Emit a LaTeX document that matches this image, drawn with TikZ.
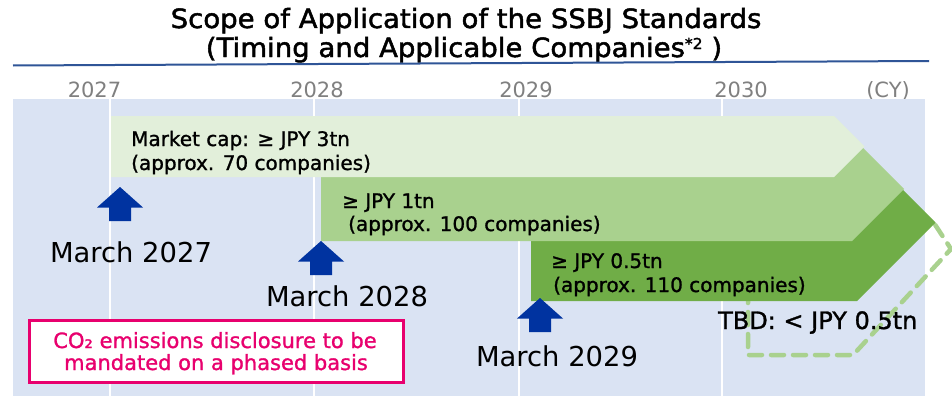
\documentclass[tikz,border=0pt]{standalone}
\usepackage{fontspec}
\setmainfont{DejaVu Sans}
\newfontfamily\titlefont[FakeStretch=1.04,FakeBold=1.8]{DejaVu Sans}
\newfontfamily\medfont[FakeBold=1.2]{DejaVu Sans}
\definecolor{panelblue}{RGB}{218,227,243}
\definecolor{glight}{RGB}{226,239,218}
\definecolor{gmid}{RGB}{169,209,142}
\definecolor{gdark}{RGB}{112,173,71}
\definecolor{arrowblue}{RGB}{0,51,160}
\definecolor{rulblue}{RGB}{47,85,151}
\definecolor{yeargray}{RGB}{128,128,128}
\definecolor{pink}{RGB}{232,0,110}
\tikzset{
  txt/.style={inner sep=0pt, font=\medfont\fontsize{20}{24}\selectfont, anchor=base west},
  yearlbl/.style={inner sep=0pt, font=\fontsize{21}{25}\selectfont, text=yeargray, anchor=base},
  marchlbl/.style={inner sep=0pt, font=\fontsize{27.4}{32}\selectfont, anchor=base},
  divider/.style={draw=white, line width=2.5pt},
  uparrow/.pic={\fill[arrowblue] (0,0) -- (23,20.5) -- (11,20.5) -- (11,34) -- (-11,34) -- (-11,20.5) -- (-23,20.5) -- cycle;},
  tbddash/.style={draw=gmid, line width=4.5pt, dash pattern=on 13pt off 9pt, line cap=round, line join=round}
}
\begin{document}
\begin{tikzpicture}[x=1pt,y=-1pt]
\useasboundingbox (0,0) rectangle (952,396);
\fill[white] (0,0) rectangle (952,396);
% title
\node[inner sep=0pt, anchor=base, font=\titlefont\fontsize{26.5}{30}\selectfont] (t1) at (466,28) {Scope of Application of the SSBJ Standards};
\node[inner sep=0pt, anchor=base, font=\titlefont\fontsize{26.5}{30}\selectfont] (t2) at (464,57) {(Timing and Applicable Companies{\fontsize{15}{15}\selectfont\raisebox{8pt}{*2}} )};
\draw[rulblue, line width=2pt] (13,65.5) -- (929,61);
% year labels
\node[yearlbl] (y27) at (94.5,97) {2027};
\node[yearlbl] (y28) at (317,97) {2028};
\node[yearlbl] (y29) at (526,97) {2029};
\node[yearlbl] (y30) at (741,97) {2030};
\node[yearlbl] (cy) at (888,97) {(CY)};
% panel
\fill[panelblue] (13,99) rectangle (925,396);
\foreach \x in {110,314,519,722} \draw[divider] (\x,99) -- (\x,396);
% dashed TBD outline
\draw[tbddash] (748,290) -- (748,355) -- (853,355) -- (951,249) -- (932,220);
% bars (dark first, light on top)
\fill[gdark] (531,144) -- (857,144) -- (935.5,222.5) -- (857,301) -- (531,301) -- cycle;
\fill[gmid] (321,137) -- (852,137) -- (904,189) -- (852,241) -- (321,241) -- cycle;
\fill[glight] (111,116) -- (834,116) -- (864.5,146.5) -- (834,177) -- (111,177) -- cycle;
% bar texts
\node[txt] (l1) at (131,146) {Market cap: ≥ JPY 3tn};
\node[txt] (l2) at (131,170) {(approx. 70 companies)};
\node[txt] (m1) at (342,208) {≥ JPY 1tn};
\node[txt] (m2) at (348,231) {(approx. 100 companies)};
\node[txt] (d1) at (551,268) {≥ JPY 0.5tn};
\node[txt] (d2) at (553,292) {(approx. 110 companies)};
\node[inner sep=0pt, anchor=base west, font=\medfont\fontsize{24}{28}\selectfont] (tbd) at (718,329) {TBD: < JPY 0.5tn};
% arrows
\pic at (120,187) {uparrow};
\pic at (321,241) {uparrow};
\pic at (540,298) {uparrow};
\node[marchlbl] (m27) at (131,262) {March 2027};
\node[marchlbl] (m28) at (347,306) {March 2028};
\node[marchlbl] (m29) at (557,366) {March 2029};
% pink box
\node[draw=pink, fill=white, line width=3pt, minimum width=374pt, minimum height=62pt, inner sep=0pt] (co2) at (216,351) {};
\node[inner sep=0pt, anchor=base, text=pink, font=\medfont\fontsize{21}{25}\selectfont] (co2a) at (215,348) {CO₂ emissions disclosure to be};
\node[inner sep=0pt, anchor=base, text=pink, font=\medfont\fontsize{21}{25}\selectfont] (co2b) at (216,370) {mandated on a phased basis};
\end{tikzpicture}
\end{document}
